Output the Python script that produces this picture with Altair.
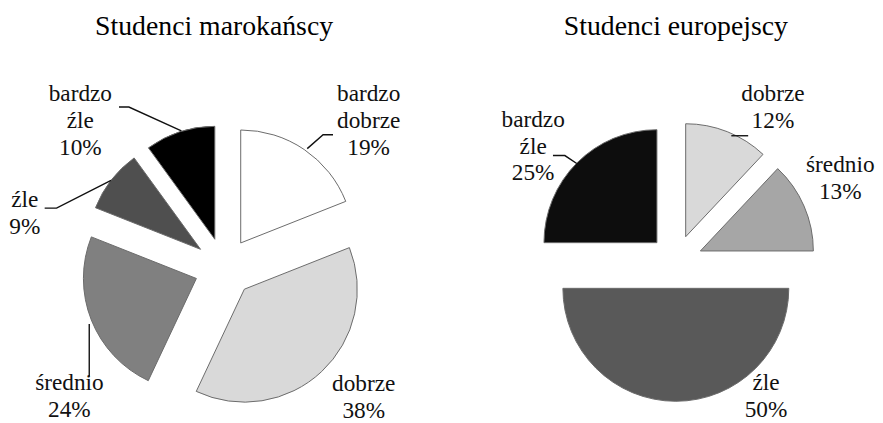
import math
import altair as alt
import pandas as pd

# ---------------- data ----------------
CATEGORIES = ["bardzo dobrze", "dobrze", "średnio", "źle", "bardzo źle"]
MOROCCAN = [19, 38, 24, 9, 10]
EUROPEAN = [0, 12, 13, 50, 25]
TITLES = ["Studenci marokańscy", "Studenci europejscy"]

# ---------------- styles / layout (page pixels) ----------------
FILLS = {
    "Studenci marokańscy": ["#ffffff", "#d9d9d9", "#808080", "#4f4f4f", "#000000"],
    "Studenci europejscy": ["#ffffff", "#d9d9d9", "#a6a6a6", "#595959", "#0d0d0d"],
}
PIE = {
    "Studenci marokańscy": dict(cx=226, cy=268, explode=30, tx=216, ty=33),
    "Studenci europejscy": dict(cx=682, cy=262, explode=27, tx=682, ty=33),
}
RADIUS = 114
LABEL_POS = {
    "Studenci marokańscy": {"bardzo dobrze": (372, 100), "dobrze": (367, 393),
                            "średnio": (70, 392), "źle": (25, 207), "bardzo źle": (81, 100)},
    "Studenci europejscy": {"dobrze": (780, 100), "średnio": (848, 172),
                            "źle": (773, 392), "bardzo źle": (538, 126)},
}
LEADERS = [
    [(310, 148), (326, 134), (336, 134)],
    [(183, 130), (130, 106), (120, 106)],
    [(112, 180), (57, 208), (45, 208)],
    [(90, 325), (90, 378)],
    [(738, 135), (755, 135)],
    [(582, 163), (570, 155), (558, 155)],
]

# ---------------- tables ----------------
rows, labels = [], []
for title, values in zip(TITLES, [MOROCCAN, EUROPEAN]):
    lay = PIE[title]
    cum = 0
    for i, (cat, v) in enumerate(zip(CATEGORIES, values)):
        start, end = cum, cum + v
        cum = end
        if v <= 0:
            continue
        mid = (start + end) / 2 / 100 * 2 * math.pi
        rows.append(dict(pie=title, cat=cat, start=start, end=end,
                         xc=lay["cx"] + lay["explode"] * math.sin(mid),
                         yc=lay["cy"] - lay["explode"] * math.cos(mid),
                         fill=FILLS[title][i]))
        lx, ly = LABEL_POS[title][cat]
        labels.append(dict(x=lx, y=ly, label="\n".join(cat.split(" ") + [f"{v}%"])))
df = pd.DataFrame(rows)
lab_df = pd.DataFrame(labels)
title_df = pd.DataFrame([dict(x=PIE[t]["tx"], y=PIE[t]["ty"], label=t) for t in TITLES])
lead_df = pd.DataFrame([dict(id=k, idx=j, x=p[0], y=p[1])
                        for k, pts in enumerate(LEADERS) for j, p in enumerate(pts)])

W, H = 867, 407
xs = alt.Scale(domain=[8, 8 + W], nice=False, zero=False)
ys = alt.Scale(domain=[8, 8 + H], nice=False, zero=False, reverse=True)
FONT = "'Liberation Serif', 'Times New Roman', serif"

arcs = alt.Chart(df).mark_arc(radius=RADIUS, stroke="#6a6a6a", strokeWidth=1).encode(
    x=alt.X("xc:Q", scale=xs, axis=None),
    y=alt.Y("yc:Q", scale=ys, axis=None),
    theta=alt.Theta("start:Q", stack=None,
                    scale=alt.Scale(domain=[0, 100], range=[0, 2 * math.pi])),
    theta2="end:Q",
    fill=alt.Fill("fill:N", scale=None),
)

leaders = alt.Chart(lead_df).mark_line(color="#111111", strokeWidth=1.4).encode(
    x=alt.X("x:Q", scale=xs, axis=None),
    y=alt.Y("y:Q", scale=ys, axis=None),
    detail="id:N",
    order="idx:Q",
)

label_text = alt.Chart(lab_df).mark_text(
    font=FONT, fontSize=23.5, lineHeight=27, lineBreak="\n",
    align="center", baseline="alphabetic", color="#111111",
).encode(
    x=alt.X("x:Q", scale=xs, axis=None),
    y=alt.Y("y:Q", scale=ys, axis=None),
    text="label:N",
)

title_text = alt.Chart(title_df).mark_text(
    font=FONT, fontSize=28, align="center", baseline="alphabetic", color="#000000",
).encode(
    x=alt.X("x:Q", scale=xs, axis=None),
    y=alt.Y("y:Q", scale=ys, axis=None),
    text="label:N",
)

chart = alt.layer(arcs, leaders, label_text, title_text).properties(
    width=W, height=H, padding=0
).configure_view(stroke=None)

chart.save("out.html", embed_options={"renderer": "svg", "actions": False})
